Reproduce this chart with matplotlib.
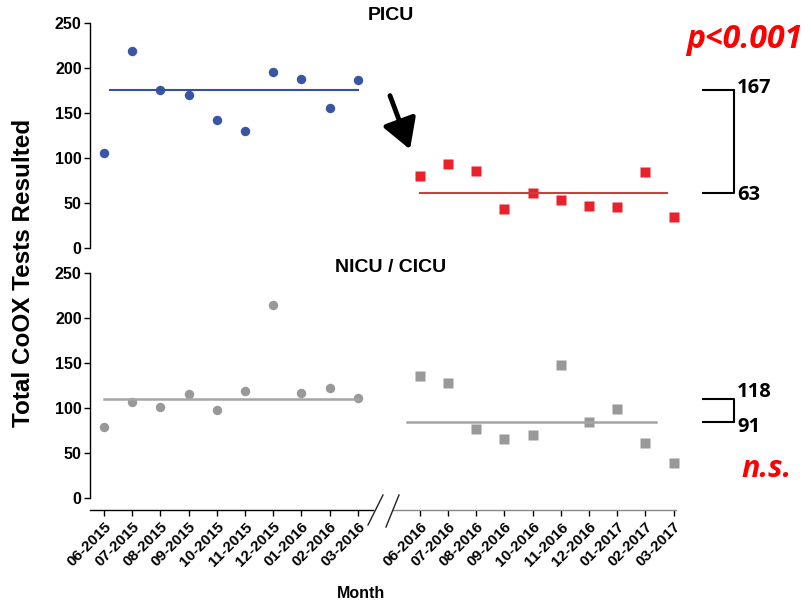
import numpy as np
import matplotlib
matplotlib.use('Agg')
import matplotlib.pyplot as plt
from matplotlib.lines import Line2D
from matplotlib.patches import FancyArrowPatch
import matplotlib.transforms as mtransforms

# months before / after the intervention
months_pre = ['06-2015', '07-2015', '08-2015', '09-2015', '10-2015',
              '11-2015', '12-2015', '01-2016', '02-2016', '03-2016']
months_post = ['06-2016', '07-2016', '08-2016', '09-2016', '10-2016',
               '11-2016', '12-2016', '01-2017', '02-2017', '03-2017']

# total CoOX tests resulted per month
picu_pre = [106, 219, 175, 170, 142, 130, 195, 188, 155, 187]
picu_post = [80, 93, 86, 43, 61, 53, 47, 46, 84, 35]
nicu_pre = [79, 107, 101, 116, 98, 119, 214, 117, 122, 111]
nicu_post = [135, 128, 77, 66, 70, 148, 85, 99, 61, 39]

# reference lines drawn through each period, and the means written at the side
picu_levels = [175, 61]
nicu_levels = [110, 85]
picu_means = ['167', '63']
nicu_means = ['118', '91']

plt.rcParams['font.family'] = ['Liberation Sans', 'DejaVu Sans']
plt.rcParams['font.weight'] = 'bold'

W, H = 812, 606
fig = plt.figure(figsize=(W / 100, H / 100), dpi=100)

x_pre = np.arange(len(months_pre))
x_post = np.arange(len(months_post)) + 11.2
px_per = 28.2  # pixels per month


def fx(px):
    return px / W


def fy(py):
    return 1 - py / H


ax_left = fx(90)
ax_w = fx(690.6) - ax_left
ax_h = 225.6 / H
ax_top = fig.add_axes([ax_left, fy(248.3), ax_w, ax_h])
ax_bot = fig.add_axes([ax_left, fy(498.3), ax_w, ax_h])

blue = '#3A55A5'
blue_line = '#3550A3'
red = '#E8212B'
red_line = '#C9403D'
gray = '#999999'
gray_line = '#A5A5A5'

for ax in (ax_top, ax_bot):
    ax.set_xlim(-0.5, 20.8)
    ax.set_ylim(0, 250)
    ax.set_yticks([0, 50, 100, 150, 200, 250])
    for s in ('top', 'right'):
        ax.spines[s].set_visible(False)
    ax.spines['left'].set_bounds(0, 250)
    ax.spines['left'].set_linewidth(1.0)
    ax.tick_params(axis='y', length=4, width=1, labelsize=11.5, pad=2)
    for lab in ax.get_yticklabels():
        lab.set_fontweight('bold')

# top panel: PICU
ax_top.spines['bottom'].set_visible(False)
ax_top.tick_params(axis='x', bottom=False, labelbottom=False)
ax_top.plot(x_pre, picu_pre, 'o', color=blue, ms=6.8, mec='none')
ax_top.plot(x_post, picu_post, 's', color=red, ms=6.8, mec='none')
ax_top.plot([0.2, 9.0], [picu_levels[0]] * 2, color=blue_line, lw=1.5)
ax_top.plot([11.2, 11.2 + 8.76], [picu_levels[1]] * 2, color=red_line, lw=1.5)

# bottom panel: NICU / CICU
ax_bot.plot(x_pre, nicu_pre, 'o', color=gray, ms=6.8, mec='none')
ax_bot.plot(x_post, nicu_post, 's', color=gray, ms=6.8, mec='none')
ax_bot.plot([0, 9], [nicu_levels[0]] * 2, color=gray_line, lw=1.8)
ax_bot.plot([11.2 - 0.46, 11.2 + 8.37], [nicu_levels[1]] * 2, color=gray_line, lw=1.8)

# broken x axis
ax_bot.spines['bottom'].set_position(('outward', 12 * 0.72))
ax_bot.spines['bottom'].set_bounds(-0.5, 9.54)
ax_bot.spines['bottom'].set_linewidth(1.0)
xt = list(x_pre) + list(x_post)
ax_bot.set_xticks(xt)
ax_bot.set_xticklabels(months_pre + months_post, rotation=45, ha='right',
                       rotation_mode='anchor', fontsize=11, fontweight='bold')
ax_bot.tick_params(axis='x', length=4, width=1, pad=3)
for i, t in enumerate(ax_bot.xaxis.get_major_ticks()):
    if i >= len(months_pre):
        t.tick1line.set_color('#888888')
trans = mtransforms.offset_copy(ax_bot.get_xaxis_transform(), fig=fig, y=-12, units='dots')
ax_bot.plot([10.25, 20.28], [0, 0], color='#888888', lw=1.0, transform=trans, clip_on=False)
for (x0, y0, x1, y1) in [(368, 525, 383, 495), (386, 527, 399, 495)]:
    fig.add_artist(Line2D([fx(x0), fx(x1)], [fy(y0), fy(y1)], color='#222222', lw=1.0,
                          transform=fig.transFigure))

# brackets with the means
def bracket(ax, levels, labels, label_y):
    xa = (703 - 104) / px_per
    xb = (734 - 104) / px_per
    ax.plot([xa, xb, xb, xa], [levels[0], levels[0], levels[1], levels[1]],
            color='black', lw=1.5, clip_on=False)
    for lab, ly in zip(labels, label_y):
        ax.text((737 - 104) / px_per, ly, lab, fontsize=14.5, fontweight='bold',
                ha='left', va='center', clip_on=False, family=['Open Sans', 'DejaVu Sans'])


bracket(ax_top, picu_levels, picu_means, [178, 59])
bracket(ax_bot, nicu_levels, nicu_means, [118, 79])

# titles and labels
fig.text(fx(391), fy(15), 'PICU', ha='center', va='center', fontsize=14, fontweight='bold')
fig.text(fx(391), fy(268), 'NICU / CICU', ha='center', va='center', fontsize=14, fontweight='bold')
fig.text(fx(24), fy(273), 'Total CoOX Tests Resulted', rotation=90, ha='center', va='center',
         fontsize=17.5, fontweight='bold')
fig.text(fx(361), fy(593), 'Month', ha='center', va='center', fontsize=11.5, fontweight='bold')

fig.text(fx(686), fy(40), 'p<0.001', ha='left', va='center', fontsize=23,
         fontweight='bold', style='italic', color='#FF0000', family=['Open Sans', 'DejaVu Sans'])
fig.text(fx(741), fy(469), 'n.s.', ha='left', va='center', fontsize=22,
         fontweight='bold', style='italic', color='#FF0000', family=['Open Sans', 'DejaVu Sans'])

# arrow pointing at the first post-intervention month
arr = FancyArrowPatch((fx(389), fy(93)), (fx(411), fy(152)), transform=fig.transFigure,
                      arrowstyle='-|>,head_length=1.2,head_width=0.7', mutation_scale=15,
                      lw=3.5, color='black')
fig.add_artist(arr)

fig.savefig('out.png', dpi=100)
